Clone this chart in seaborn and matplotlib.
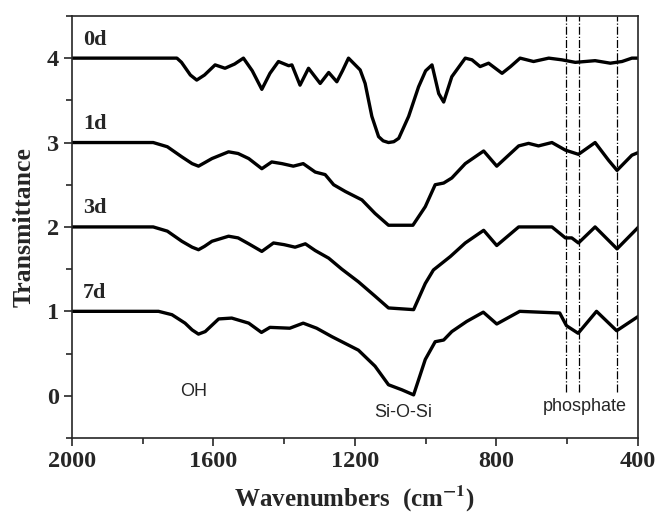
import numpy as np
import pandas as pd
import matplotlib
matplotlib.use("Agg")
import matplotlib.pyplot as plt
from matplotlib.ticker import MultipleLocator
import seaborn as sns

# FTIR spectra (wavenumber, offset transmittance)
wn_0d = [2000, 1703, 1690, 1665, 1647, 1625, 1595, 1567, 1540, 1515, 1490, 1463, 1440, 1416, 1387,
         1378, 1355, 1331, 1298, 1274, 1251, 1235, 1218, 1185, 1171, 1152, 1133, 1120, 1105, 1090,
         1076, 1048, 1020, 1000, 982, 963, 949, 926, 888, 869, 846, 822, 784, 760, 733, 695, 652,
         615, 577, 549, 521, 478, 445, 417, 400]
t_0d = [4.0, 4.0, 3.95, 3.80, 3.74, 3.80, 3.92, 3.88, 3.93, 4.0, 3.85, 3.63, 3.82, 3.96, 3.91,
        3.92, 3.68, 3.88, 3.70, 3.83, 3.72, 3.85, 4.0, 3.86, 3.70, 3.31, 3.07, 3.02, 3.0, 3.01,
        3.05, 3.31, 3.66, 3.85, 3.92, 3.58, 3.48, 3.78, 4.0, 3.98, 3.90, 3.94, 3.82, 3.90, 4.0, 3.96,
        4.0, 3.98, 3.95, 3.96, 3.97, 3.94, 3.96, 4.0, 4.0]

wn_1d = [2000, 1770, 1730, 1689, 1660, 1642, 1625, 1604, 1557, 1530, 1500, 1463, 1435, 1406, 1374,
         1346, 1312, 1284, 1260, 1227, 1180, 1143, 1105, 1036, 1001, 973, 949, 926, 888, 836, 799,
         737, 709, 681, 643, 605, 568, 521, 483, 459, 417, 400]
t_1d = [3.0, 3.0, 2.95, 2.83, 2.75, 2.72, 2.76, 2.81, 2.89, 2.87, 2.81, 2.69, 2.77, 2.75, 2.72,
        2.75, 2.65, 2.62, 2.50, 2.42, 2.32, 2.16, 2.02, 2.02, 2.24, 2.50, 2.52, 2.58, 2.75, 2.90,
        2.72, 2.96, 2.99, 2.96, 3.0, 2.91, 2.86, 3.0, 2.79, 2.67, 2.85, 2.88]

wn_3d = [2000, 1770, 1730, 1689, 1660, 1642, 1625, 1604, 1557, 1530, 1500, 1463, 1430, 1400, 1369,
         1340, 1312, 1274, 1237, 1190, 1143, 1105, 1034, 1001, 978, 930, 888, 836, 799, 737, 695,
         643, 605, 587, 568, 521, 459, 398]
t_3d = [2.0, 2.0, 1.95, 1.83, 1.76, 1.73, 1.77, 1.83, 1.89, 1.87, 1.80, 1.71, 1.81, 1.79, 1.76,
        1.80, 1.72, 1.63, 1.50, 1.35, 1.18, 1.04, 1.02, 1.33, 1.49, 1.65, 1.81, 1.96, 1.78, 2.0,
        2.0, 2.0, 1.87, 1.87, 1.81, 2.0, 1.74, 2.0]

wn_7d = [2000, 1755, 1717, 1680, 1660, 1642, 1623, 1585, 1548, 1500, 1464, 1440, 1384, 1346, 1308,
         1265, 1190, 1143, 1105, 1067, 1034, 1001, 973, 949, 926, 884, 837, 799, 734, 621, 602,
         569, 517, 460, 399]
t_7d = [1.0, 1.0, 0.96, 0.86, 0.78, 0.73, 0.76, 0.91, 0.92, 0.86, 0.75, 0.81, 0.80, 0.86, 0.80,
        0.70, 0.54, 0.35, 0.13, 0.07, 0.01, 0.43, 0.64, 0.66, 0.76, 0.88, 0.99, 0.85, 1.0, 0.98,
        0.83, 0.74, 1.0, 0.77, 0.94]

days = ["0d", "1d", "3d", "7d"]
phosphate_lines = [603, 567, 460]

sns.set_style("ticks")
plt.rcParams["font.family"] = ["Liberation Serif", "DejaVu Serif"]
plt.rcParams["mathtext.fontset"] = "stix"
plt.rcParams["mathtext.default"] = "bf"

fig = plt.figure(figsize=(6.59, 5.14), dpi=100)
ax = fig.add_axes([0.109, 0.148, 0.859, 0.821])

spectra = [(wn_0d, t_0d), (wn_1d, t_1d), (wn_3d, t_3d), (wn_7d, t_7d)]
for day, (wn, t) in zip(days, spectra):
    df = pd.DataFrame({"wn": wn, "t": t})
    sns.lineplot(data=df, x="wn", y="t", color="black", linewidth=2.4, ax=ax, legend=False)
    ax.text(1935, t[0] + 0.22, day, ha="center", va="center", fontsize=16, fontweight="bold")

ax.vlines(phosphate_lines, 0.05, 4.5, colors="black", linestyles="dashdot", linewidth=0.9)

ax.text(1657, 0.05, "OH", family="Liberation Sans", fontsize=13, ha="center", va="center")
ax.text(1062, -0.2, "Si-O-Si", family="Liberation Sans", fontsize=13, ha="center", va="center")
ax.text(550, -0.13, "phosphate", family="Liberation Sans", fontsize=13, ha="center", va="center")

ax.set_xlim(2000, 400)
ax.set_ylim(-0.5, 4.5)
ax.xaxis.set_major_locator(MultipleLocator(400))
ax.xaxis.set_minor_locator(MultipleLocator(200))
ax.yaxis.set_major_locator(MultipleLocator(1))
ax.yaxis.set_minor_locator(MultipleLocator(0.5))
ax.tick_params(which="major", direction="out", length=6, width=1.2, labelsize=17.5)
ax.tick_params(which="minor", direction="out", length=4, width=1.2)
for lab in ax.get_xticklabels() + ax.get_yticklabels():
    lab.set_fontweight("bold")
for sp in ax.spines.values():
    sp.set_linewidth(1.2)
    sp.set_visible(True)

ax.set_xlabel("Wavenumbers  (cm$^{-1}$)", fontsize=18, fontweight="bold", labelpad=8)
ax.set_ylabel("Transmittance", fontsize=18.5, fontweight="bold", labelpad=8)

fig.savefig("out.png", dpi=100)
